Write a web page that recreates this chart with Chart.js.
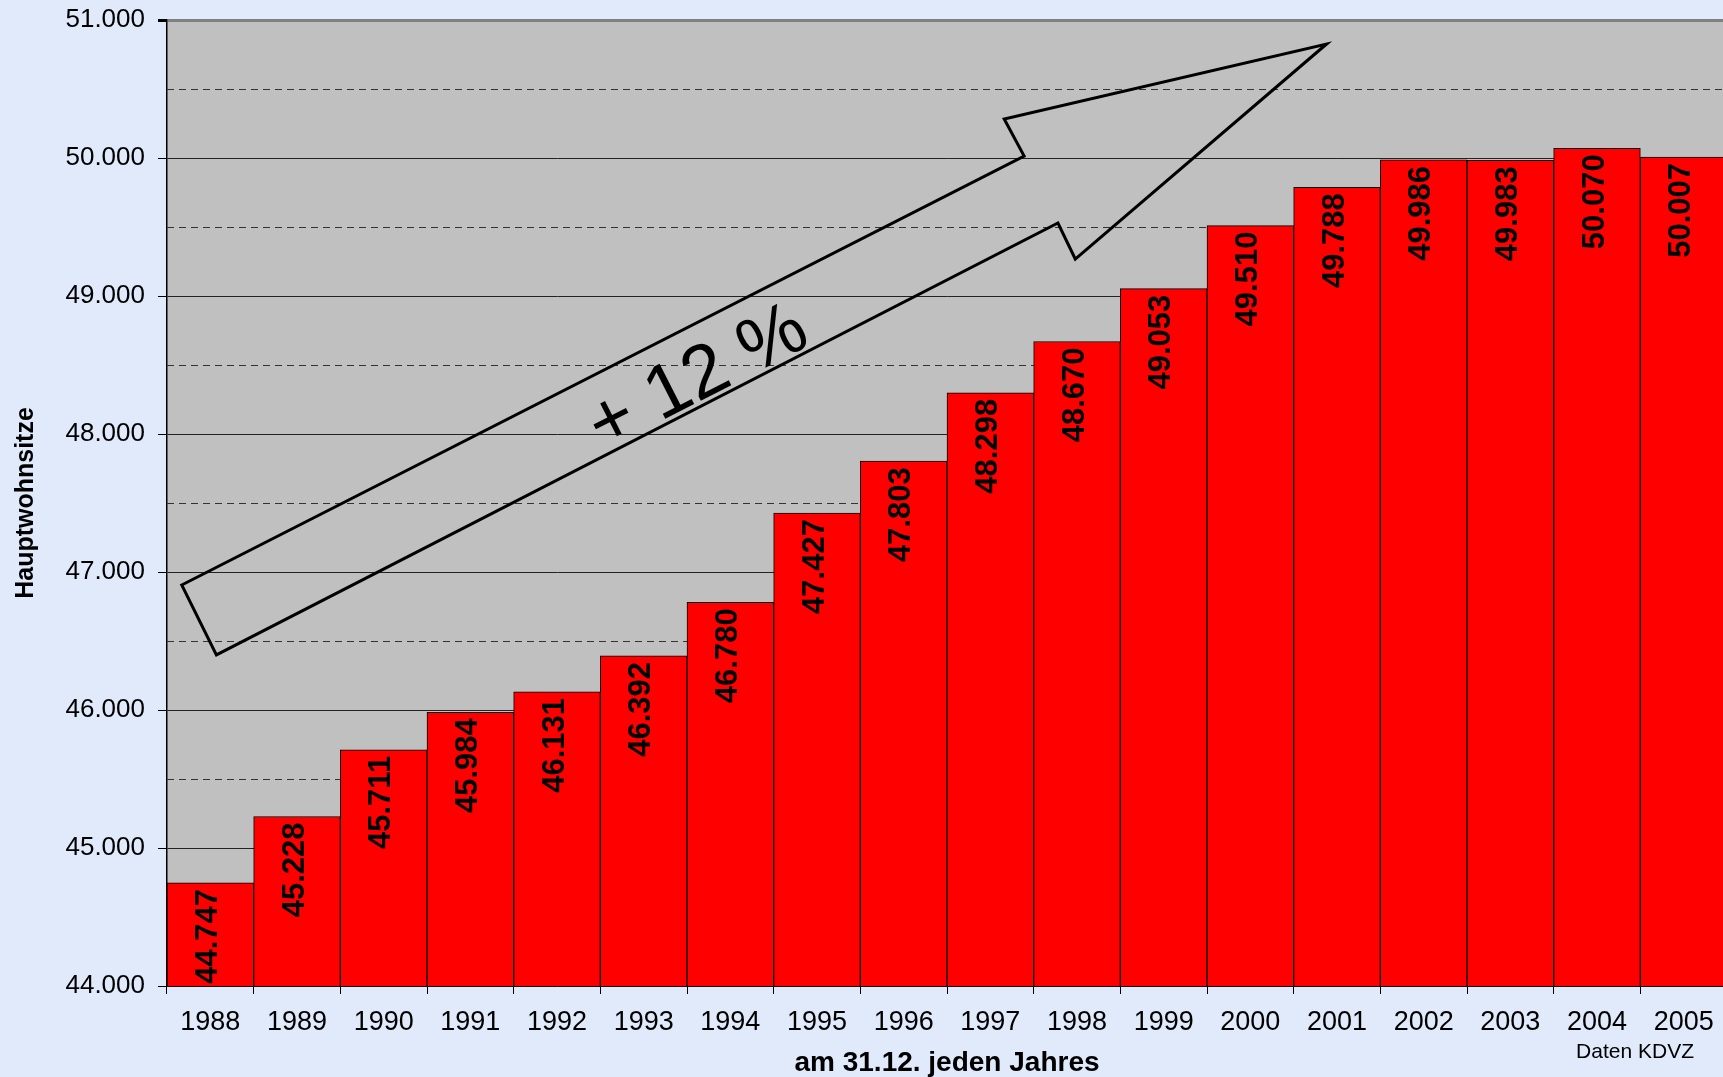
<!DOCTYPE html>
<html>
<head>
<meta charset="utf-8">
<script src="https://cdn.jsdelivr.net/npm/chart.js@4.4.0/dist/chart.umd.min.js"></script>
<style>
  html, body { margin: 0; padding: 0; overflow: hidden; background: #e0eafa; }
  canvas { display: block; }
</style>
</head>
<body>
<canvas id="chart" width="1727" height="1077"></canvas>
<script>
const years = ["1988","1989","1990","1991","1992","1993","1994","1995","1996","1997","1998","1999","2000","2001","2002","2003","2004","2005"];
const residents = [44747, 45228, 45711, 45984, 46131, 46392, 46780, 47427, 47803, 48298, 48670, 49053, 49510, 49788, 49986, 49983, 50070, 50007];
const halfLines = [44500, 45500, 46500, 47500, 48500, 49500, 50500];

// Pfeil in Datenkoordinaten (Kategorie-Index, Wert)
const arrowIdx = [-0.33, 9.39, 9.16, 12.88, 9.98, 9.78, 0.07];
const arrowVal = [46906, 50014, 50283, 50826, 49268, 49529, 46399];
const arrowText = "+ 12 %";
const arrowTextPos = [5.63, 48400];

const fmt = v => String(v).replace(/\B(?=(\d{3})+(?!\d))/g, ".");
const FONT = "'Liberation Sans', Arial, sans-serif";

const bgPlugin = {
  id: "bg",
  beforeDraw(chart) {
    const { ctx, chartArea: a } = chart;
    ctx.save();
    ctx.fillStyle = "#c0c0c0";
    ctx.fillRect(a.left, a.top, a.right - a.left, a.bottom - a.top);
    ctx.restore();
  },
  beforeDatasetsDraw(chart) {
    const { ctx, chartArea: a, scales } = chart;
    ctx.save();
    ctx.strokeStyle = "#333";
    ctx.lineWidth = 1;
    ctx.setLineDash([7, 5]);
    halfLines.forEach(v => {
      const y = Math.round(scales.y.getPixelForValue(v)) + 0.5;
      ctx.beginPath();
      ctx.moveTo(a.left, y);
      ctx.lineTo(a.right, y);
      ctx.stroke();
    });
    ctx.restore();
  }
};

const labelPlugin = {
  id: "labels",
  afterDatasetsDraw(chart) {
    const { ctx, scales } = chart;
    const meta = chart.getDatasetMeta(0);
    ctx.save();
    ctx.fillStyle = "#000";
    ctx.font = "bold 31px " + FONT;
    ctx.textAlign = "right";
    ctx.textBaseline = "middle";
    meta.data.forEach((bar, i) => {
      ctx.save();
      ctx.translate(bar.x - 2, bar.y + 6);
      ctx.rotate(-Math.PI / 2);
      ctx.fillText(fmt(residents[i]), 0, 0);
      ctx.restore();
    });

    // Pfeil
    const pts = arrowIdx.map((x, i) => [scales.x.getPixelForValue(x), scales.y.getPixelForValue(arrowVal[i])]);
    ctx.strokeStyle = "#000";
    ctx.lineWidth = 3;
    ctx.lineJoin = "miter";
    ctx.beginPath();
    pts.forEach((p, i) => i ? ctx.lineTo(p[0], p[1]) : ctx.moveTo(p[0], p[1]));
    ctx.closePath();
    ctx.stroke();

    const ang = Math.atan2(pts[1][1] - pts[0][1], pts[1][0] - pts[0][0]);
    ctx.translate(scales.x.getPixelForValue(arrowTextPos[0]), scales.y.getPixelForValue(arrowTextPos[1]));
    ctx.rotate(ang);
    ctx.font = "75px " + FONT;
    ctx.textAlign = "center";
    ctx.textBaseline = "middle";
    ctx.fillText(arrowText, 0, 0);
    ctx.restore();
  },
  afterDraw(chart) {
    const { ctx } = chart;
    ctx.save();
    ctx.fillStyle = "#000";
    ctx.font = "21px " + FONT;
    ctx.textAlign = "right";
    ctx.textBaseline = "middle";
    ctx.fillText("Daten KDVZ", 1694, 1052);
    ctx.restore();
  }
};

new Chart(document.getElementById("chart"), {
  type: "bar",
  data: {
    labels: years,
    datasets: [{
      data: residents,
      backgroundColor: "#ff0000",
      borderColor: "#000",
      borderWidth: 1,
      barPercentage: 1,
      categoryPercentage: 1
    }]
  },
  options: {
    responsive: false,
    animation: false,
    layout: { padding: { top: 20, right: 0, left: 0, bottom: 0 } },
    plugins: { legend: { display: false }, tooltip: { enabled: false } },
    scales: {
      x: {
        offset: true,
        grid: { offset: true, drawOnChartArea: false, tickLength: 8, tickColor: "#000" },
        border: { color: "#000", width: 1.5 },
        ticks: { color: "#000", font: { family: FONT, size: 27 }, padding: 12, maxRotation: 0 },
        title: { display: true, text: "am 31.12. jeden Jahres", color: "#000",
                 font: { family: FONT, size: 28, weight: "bold" }, padding: { top: 0, bottom: -3 } },
        afterFit(scale) { scale.height = 91; scale.paddingLeft = 0; scale.paddingRight = 0; }
      },
      y: {
        min: 44000,
        max: 51000,
        ticks: { stepSize: 1000, color: "#000", font: { family: FONT, size: 26 }, padding: 13,
                 callback: v => fmt(v) },
        grid: {
          color: c => c.tick && c.tick.value === 51000 ? "#808080" : "#222",
          lineWidth: c => c.tick && c.tick.value === 51000 ? 3 : 1,
          tickLength: 9, tickColor: "#000"
        },
        border: { color: "#000", width: 1.5 },
        title: { display: true, text: "Hauptwohnsitze", color: "#000",
                 font: { family: FONT, size: 25, weight: "bold" }, padding: { top: 11, bottom: 0 } },
        afterFit(scale) { scale.width = 167; scale.paddingTop = 0; scale.paddingBottom = 0; }
      }
    }
  },
  plugins: [bgPlugin, labelPlugin]
});
</script>
</body>
</html>
